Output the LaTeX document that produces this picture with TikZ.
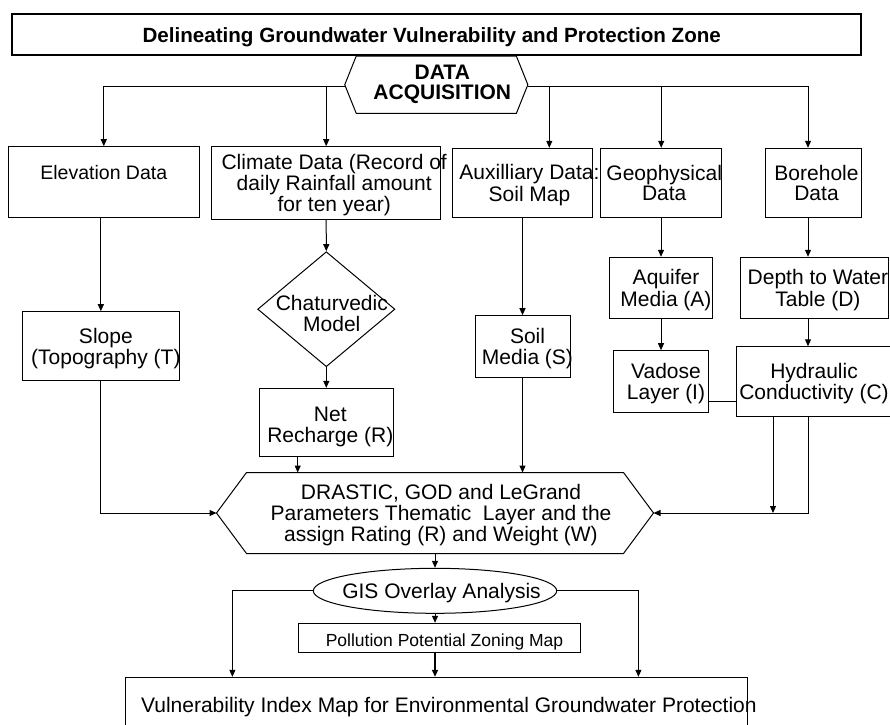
\documentclass[tikz,border=0pt]{standalone}
\usepackage{fontspec}
\setmainfont{Liberation Sans}
\usetikzlibrary{shapes.geometric,arrows.meta}
\newcommand\zw[2][0pt]{\raisebox{-3pt}[\height][\depth]{\makebox[0pt]{\hspace*{#1}\begin{tabular}{@{}c@{}}#2\end{tabular}}}}
\newcommand\vsh[2]{\raisebox{#1}[\height][\depth]{#2}}
\begin{document}
\begin{tikzpicture}[x=1pt,y=-1pt,
  box/.style={draw, line width=1pt, rectangle, inner sep=0pt, font=\fontsize{21}{20}\selectfont},
  arr/.style={line width=1pt, -{Triangle[length=7pt,width=6pt]}},
  ln/.style={line width=1pt}]
\useasboundingbox (0,0) rectangle (890,724);
\clip (0,0) rectangle (890,724);
\fill[white] (0,0) rectangle (890,724);

% header
\node[draw=none, inner sep=0pt, minimum width=182.7pt, minimum height=57pt,
      font=\bfseries\fontsize{21}{19.5}\selectfont] (acq) at (436.3,84.7)
      {\vsh{2.5pt}{\zw[12pt]{DATA\\ACQUISITION}}};
\draw[ln] (acq.west) -- ([xshift=11.5pt]acq.north west) -- ([xshift=-11.5pt]acq.north east)
  -- (acq.east) -- ([xshift=-11.5pt]acq.south east) -- ([xshift=11.5pt]acq.south west) -- cycle;
\node[box, line width=2pt, minimum width=848.4pt, minimum height=40.7pt,
      font=\bfseries\fontsize{20.6}{22}\selectfont] (title) at (436.5,34.7)
      {\zw[-9.6pt]{Delineating Groundwater Vulnerability and Protection Zone}};

% row 1
\node[box, minimum width=191pt, minimum height=71pt, font=\fontsize{19.5}{20}\selectfont] (elev) at (103.8,182.2)
      {\zw{Elevation Data\\\mbox{}}};
\node[box, minimum width=229pt, minimum height=72.6pt] (clim) at (326.2,183)
      {\zw[16pt]{Climate Data (Record of\\daily Rainfall amount\\for ten year)}};
\node[box, minimum width=139.6pt, minimum height=69pt] (aux) at (522.5,182.8)
      {\zw[14pt]{Auxilliary Data:\\Soil Map}};
\node[box, minimum width=121pt, minimum height=69pt] (geo) at (661.2,182.8)
      {\zw[6pt]{Geophysical\\Data}};
\node[box, minimum width=95.6pt, minimum height=69pt] (bore) at (813.5,182.8)
      {\zw[6pt]{Borehole\\Data}};

% row 2
\node[box, minimum width=156.3pt, minimum height=69pt] (slope) at (100.85,346.2)
      {\zw[10pt]{Slope\\(Topography (T)}};
\node[box, shape=diamond, minimum width=137.3pt, minimum height=115pt] (chat) at (326.3,309.2)
      {\vsh{-4pt}{\zw[11pt]{Chaturvedic\\Model}}};
\node[box, minimum width=95pt, minimum height=61.6pt] (soil) at (522.5,346.5)
      {\zw[10pt]{Soil\\Media (S)}};
\node[box, minimum width=103.4pt, minimum height=61pt] (aqu) at (661,287.8)
      {\zw[10pt]{Aquifer\\Media (A)}};
\node[box, minimum width=148.3pt, minimum height=61pt] (depth) at (814.2,287.8)
      {\zw[7.4pt]{Depth to Water\\Table (D)}};
\node[box, minimum width=95.4pt, minimum height=61.6pt] (vad) at (661,381.5)
      {\zw[10pt]{Vadose\\Layer (I)}};
\node[box, minimum width=165pt, minimum height=69.3pt] (hyd) at (818.5,381.4)
      {\zw[-9pt]{Hydraulic\\Conductivity (C)}};
\node[box, minimum width=134pt, minimum height=67.7pt] (net) at (326.3,422.2)
      {\vsh{-2.5pt}{\zw[8pt]{Net\\Recharge (R)}}};

% hexagon
\node[box, draw=none, minimum width=436pt, minimum height=80pt] (hex) at (435,513)
      {\zw[12pt]{DRASTIC, GOD and LeGrand\\Parameters Thematic\ \ Layer and the\\assign Rating (R) and Weight (W)}};
\draw[ln] (hex.west) -- ([xshift=30pt]hex.north west) -- ([xshift=-30pt]hex.north east)
  -- (hex.east) -- ([xshift=-30pt]hex.south east) -- ([xshift=30pt]hex.south west) -- cycle;

% bottom
\node[box, shape=ellipse, minimum width=243.4pt, minimum height=45pt] (gis) at (435,590.8)
      {\zw[13pt]{GIS Overlay Analysis}};
\node[box, minimum width=281.7pt, minimum height=29.4pt, font=\fontsize{17.5}{20}\selectfont] (poll) at (439.2,638)
      {\vsh{-1pt}{\zw[10.6pt]{Pollution Potential Zoning Map}}};
\node[box, minimum width=622.7pt, minimum height=55pt] (vul) at (436.4,704.8)
      {\zw[25pt]{Vulnerability Index Map for Environmental Groundwater Protection}};

% connectors
\draw[arr] ([yshift=-2pt]acq.west) -| (elev.north);
\draw[arr] ([yshift=-2pt]acq.west) -| (clim.north);
\draw[arr] ([yshift=-2pt]acq.east) -| ([xshift=26.8pt]aux.north);
\draw[arr] ([yshift=-2pt]acq.east) -| (geo.north);
\draw[arr] ([yshift=-2pt]acq.east) -| ([xshift=-5.5pt]bore.north);
\draw[arr] (elev.south -| slope.north) -- (slope.north);
\draw[arr] (clim.south) -- (chat.north);
\draw[arr] (chat.south) -- (net.north);
\draw[arr] (aux.south) -- (soil.north);
\draw[arr] (geo.south -| aqu.north) -- (aqu.north);
\draw[arr] (aqu.south) -- (vad.north);
\draw[arr] ([xshift=-5.5pt]bore.south) -- ([xshift=-5.5pt]bore.south |- depth.north);
\draw[arr] ([xshift=-5.5pt]bore.south |- depth.south) -- ([xshift=-5.5pt]bore.south |- hyd.north);
\draw[ln] ([yshift=-19.5pt]vad.east) -- ([yshift=-19.5pt]vad.east -| hyd.west);
\draw[arr] (slope.south) |- (hex.west);
\draw[arr] ([xshift=-28.6pt]net.south) -- ([xshift=-28.6pt]net.south |- hex.north);
\draw[arr] (soil.south) -- (soil.south |- hex.north);
\draw[arr] ([xshift=-10.5pt]hyd.south) |- (hex.east);
\draw[arr] ([xshift=-45.5pt]hyd.south) -- ([xshift=-45.5pt]hyd.south |- hex.east);
\draw[arr] (hex.south) -- (gis.north);
\draw[arr] (gis.west) -| ([xshift=-204pt]vul.north);
\draw[arr] (gis.east) -| ([xshift=202pt]vul.north);
\draw[arr] (gis.south) -- (gis.south |- poll.north);
\draw[arr, line width=2.5pt] (gis.south |- poll.south) -- (gis.south |- vul.north);
\end{tikzpicture}
\end{document}
